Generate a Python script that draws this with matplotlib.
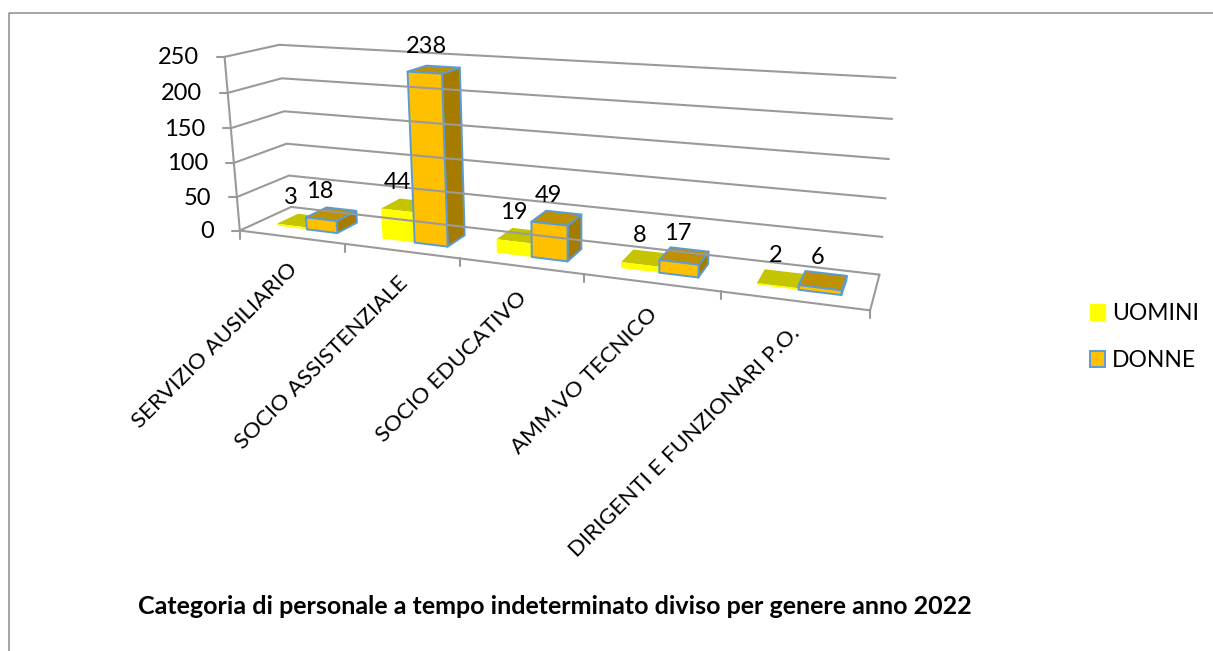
import numpy as np
import matplotlib
matplotlib.use('Agg')
import matplotlib.pyplot as plt
from matplotlib.patches import Polygon, Patch

categories = ['SERVIZIO AUSILIARIO', 'SOCIO ASSISTENZIALE', 'SOCIO EDUCATIVO',
              'AMM.VO TECNICO', 'DIRIGENTI E FUNZIONARI P.O.']
uomini = [3, 44, 19, 8, 2]
donne = [18, 238, 49, 17, 6]
y_ticks = [0, 50, 100, 150, 200, 250]
title = 'Categoria di personale a tempo indeterminato diviso per genere anno 2022'

plt.rcParams['font.family'] = ['Lato', 'DejaVu Sans']

# perspective camera fitted on the box corners: (category, depth, value) -> pixel
box = [((0, 0, 0), (240, 229.5)), ((0, 1, 0), (291, 207)), ((5, 1, 0), (879, 274)),
       ((5, 0, 0), (870.7, 309)), ((0, 0, 250), (224.7, 56.7)), ((0, 1, 250), (279, 44.7)),
       ((5, 1, 250), (895, 78)), ((1, 0, 0), (345, 245)), ((2, 0, 0), (460, 258.5)),
       ((3, 0, 0), (584, 275)), ((4, 0, 0), (720, 292)), ((0, 1, 100), (287, 143.7)),
       ((5, 1, 100), (886.7, 199))]
A, b = [], []
for (u, v, w), (px, py) in box:
    A.append([u, v, w, 1, 0, 0, 0, 0, -px*u, -px*v, -px*w])
    b.append(px)
    A.append([0, 0, 0, 0, u, v, w, 1, -py*u, -py*v, -py*w])
    b.append(py)
cam = np.append(np.linalg.lstsq(np.array(A, float), np.array(b, float), rcond=None)[0], 1).reshape(3, 4)


def project(u, v, w):
    x, y, z = cam @ np.array([u, v, w, 1.0])
    return x/z, y/z


def draw_bar(cat, start, value, front, side, top, edge=None):
    u0, u1 = cat + start, cat + start + 0.29
    v0, v1 = 0.30, 0.72
    faces = [
        ([(u1, v0, 0), (u1, v1, 0), (u1, v1, value), (u1, v0, value)], side),
        ([(u0, v0, value), (u1, v0, value), (u1, v1, value), (u0, v1, value)], top),
        ([(u0, v0, 0), (u1, v0, 0), (u1, v0, value), (u0, v0, value)], front),
    ]
    for pts, col in faces:
        ax.add_patch(Polygon([project(*p) for p in pts], closed=True, facecolor=col,
                             edgecolor=edge if edge else col,
                             linewidth=1.4 if edge else 0, joinstyle='round'))


fig = plt.figure(figsize=(12.13, 6.51), dpi=100)
ax = fig.add_axes([0, 0, 1, 1])
ax.set_xlim(0, 1213)
ax.set_ylim(651, 0)
ax.axis('off')

line = dict(color='#9a9a9a', lw=1.5, solid_capstyle='round')

# chart border
ax.plot([9, 9, 1213], [651, 12.5, 12.5], color='#8c8c8c', lw=1.1)

# walls and gridlines
for t in y_ticks:
    p = [project(0, 0, t), project(0, 1, t), project(5, 1, t)]
    ax.plot([q[0] for q in p], [q[1] for q in p], **line)
    x0, y0 = project(0, 0, t)
    ax.plot([x0 - 8, x0], [y0, y0], **line)
    ax.text(x0 - 25.5, y0 + 1, str(t), ha='right', va='center', fontsize=17, color='black')
p = [project(0, 0, 0), project(0, 0, 250)]
ax.plot([q[0] for q in p], [q[1] for q in p], **line)
p = [project(0, 0, 0), project(5, 0, 0), project(5, 1, 0)]
ax.plot([q[0] for q in p], [q[1] for q in p], **line)

# category ticks and rotated labels
for i in range(6):
    x0, y0 = project(i, 0, 0)
    ax.plot([x0, x0], [y0, y0 + 8], **line)
for i, name in enumerate(categories):
    x0, y0 = project(i + 0.5, 0, 0)
    ax.text(x0 + 3, y0 + 29, name, rotation=45, ha='right', va='center',
            rotation_mode='anchor', fontsize=16.1, color='black')

# bars, back to front
for i in range(len(categories)):
    draw_bar(i, 0.21, uomini[i], '#ffff00', '#a6a600', '#c4c400')
    draw_bar(i, 0.50, donne[i], '#ffc000', '#a67c00', '#bf9000', edge='#5b9bd5')
    for start, val in ((0.21, uomini[i]), (0.50, donne[i])):
        x0, y0 = project(i + start + 0.145, 0.5, val)
        ax.text(x0 - 5 - (4 - i)*1.5 + val*0.012, y0 - 23, str(val), ha='center', va='center',
                fontsize=17, color='black')

handles = [Patch(facecolor='#ffff00', edgecolor='#ffff00', label='UOMINI'),
           Patch(facecolor='#ffc000', edgecolor='#5b9bd5', linewidth=1.4, label='DONNE')]
ax.legend(handles=handles, loc='upper left', bbox_to_anchor=(1081, 294), bbox_transform=ax.transData,
          frameon=False, fontsize=16.5, handlelength=0.65, handleheight=0.65, handletextpad=0.3,
          labelspacing=1.13, borderpad=0.4, borderaxespad=0)

ax.text(555, 606, title, ha='center', va='center', fontsize=18, fontweight='bold', color='black')

fig.savefig('out.png', dpi=100)
